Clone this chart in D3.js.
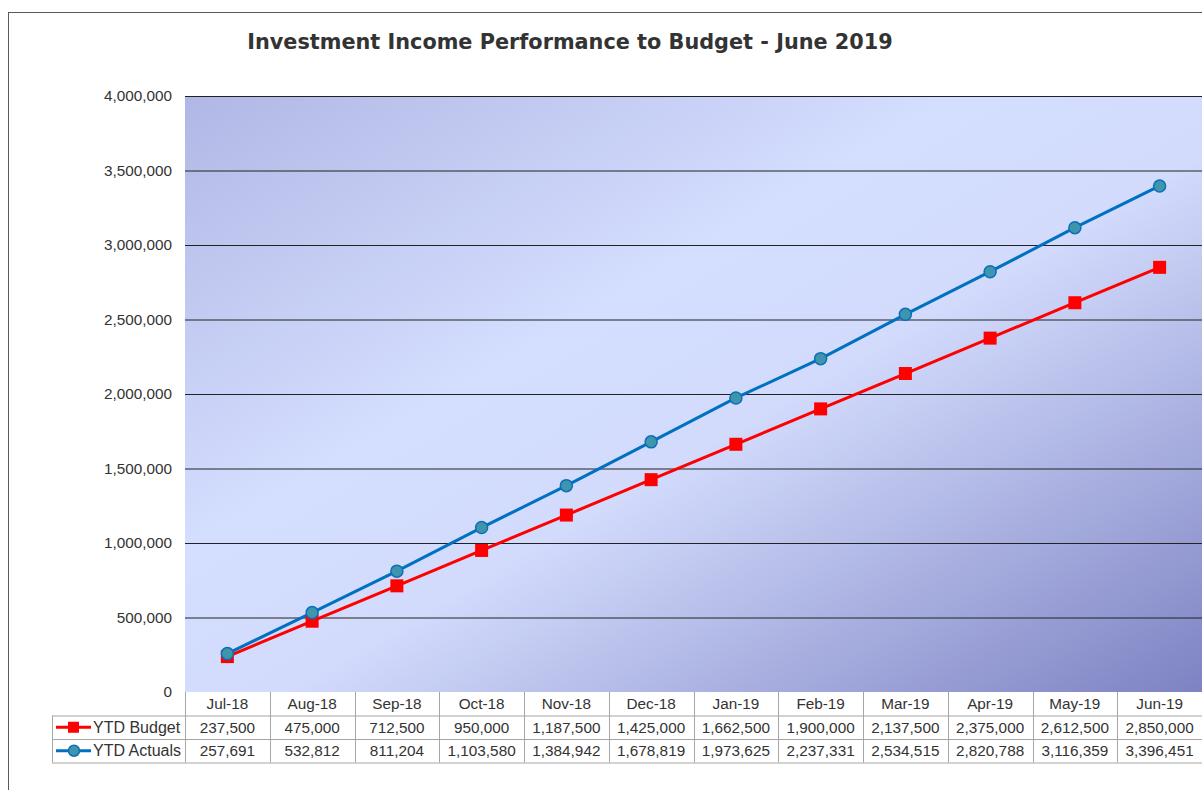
<!DOCTYPE html>
<html>
<head>
<meta charset="utf-8">
<script src="https://cdn.jsdelivr.net/npm/d3@7"></script>
<style>
  body { margin: 0; background: #fff; }
  text { font-family: "Liberation Sans", Arial, sans-serif; fill: #333; }
</style>
</head>
<body>
<svg id="chart" width="1202" height="790"></svg>
<script>
// values
const months = ["Jul-18", "Aug-18", "Sep-18", "Oct-18", "Nov-18", "Dec-18",
                "Jan-19", "Feb-19", "Mar-19", "Apr-19", "May-19", "Jun-19"];
const budget = [237500, 475000, 712500, 950000, 1187500, 1425000,
                1662500, 1900000, 2137500, 2375000, 2612500, 2850000];
const actuals = [257691, 532812, 811204, 1103580, 1384942, 1678819,
                 1973625, 2237331, 2534515, 2820788, 3116359, 3396451];
const yTicks = [0, 500000, 1000000, 1500000, 2000000, 2500000, 3000000, 3500000, 4000000];

const svg = d3.select("#chart");
const fmt = d3.format(",");

const plotL = 185, plotR = 1202, plotT = 96, plotB = 692;
const rowH = 23.5;
const fs = 15.3;

const x = d3.scaleBand().domain(months).range([plotL, plotR]);
const y = d3.scaleLinear().domain([0, 4000000]).range([plotB, plotT]);
const cx = m => x(m) + x.bandwidth() / 2;

// outer chart frame (runs off the right and bottom of the window)
svg.append("rect")
  .attr("x", 8.5).attr("y", 12.5)
  .attr("width", 1300).attr("height", 900)
  .attr("fill", "#fff").attr("stroke", "#595959");

// plot background gradient
const grad = svg.append("defs").append("linearGradient")
  .attr("id", "bg").attr("x1", 0).attr("y1", 0).attr("x2", 1).attr("y2", 1);
grad.append("stop").attr("offset", "0%").attr("stop-color", "#b1b7e5");
grad.append("stop").attr("offset", "38%").attr("stop-color", "#d4defe");
grad.append("stop").attr("offset", "55%").attr("stop-color", "#d2dbfc");
grad.append("stop").attr("offset", "100%").attr("stop-color", "#7d82c2");

svg.append("rect")
  .attr("x", plotL).attr("y", plotT)
  .attr("width", plotR - plotL).attr("height", plotB - plotT)
  .attr("fill", "url(#bg)");

// gridlines
svg.append("g")
  .attr("transform", `translate(${plotL},0)`)
  .call(d3.axisLeft(y).tickValues(yTicks.slice(1)).tickSize(-(plotR - plotL)).tickFormat(""))
  .call(g => g.select(".domain").remove())
  .call(g => g.selectAll("line").attr("stroke", "#222").attr("stroke-width", 1));

// y axis labels
svg.append("g")
  .attr("transform", `translate(${plotL},0)`)
  .call(d3.axisLeft(y).tickValues(yTicks).tickSize(0).tickPadding(13).tickFormat(fmt))
  .call(g => g.select(".domain").remove())
  .call(g => g.selectAll("text")
    .attr("font-family", "'Liberation Sans', Arial, sans-serif")
    .attr("font-size", fs).attr("fill", "#333"));

// title
svg.append("text")
  .attr("x", 570).attr("y", 49)
  .attr("text-anchor", "middle")
  .style("font-family", "'DejaVu Sans', Verdana, sans-serif")
  .style("font-weight", "bold")
  .style("font-size", "20.8px")
  .text("Investment Income Performance to Budget - June 2019");

// lines and markers
const line = d3.line().x((d, i) => cx(months[i])).y(d => y(d));

svg.append("path").datum(budget)
  .attr("d", line).attr("fill", "none")
  .attr("stroke", "#ff0000").attr("stroke-width", 3);

svg.append("path").datum(actuals)
  .attr("d", line).attr("fill", "none")
  .attr("stroke", "#0070c0").attr("stroke-width", 3);

svg.append("g").selectAll("rect")
  .data(budget).join("rect")
  .attr("x", (d, i) => cx(months[i]) - 6.5)
  .attr("y", d => y(d) - 6.5)
  .attr("width", 13).attr("height", 13)
  .attr("fill", "#ff0000");

svg.append("g").selectAll("circle")
  .data(actuals).join("circle")
  .attr("cx", (d, i) => cx(months[i]))
  .attr("cy", d => y(d))
  .attr("r", 6)
  .attr("fill", "#3f96ac").attr("stroke", "#0a70b8").attr("stroke-width", 1.5);

// data table
const table = svg.append("g");
const tblLeft = 52;
const rows = [
  { name: "YTD Budget", values: budget },
  { name: "YTD Actuals", values: actuals }
];

// header cells (month names)
table.selectAll(".hdr")
  .data(months).join("text")
  .attr("class", "hdr")
  .attr("x", d => cx(d))
  .attr("y", plotB + rowH / 2 + 5.5)
  .attr("text-anchor", "middle")
  .attr("font-size", fs)
  .text(d => d);

rows.forEach((r, ri) => {
  const rowMid = plotB + rowH * (ri + 1) + rowH / 2;
  table.append("g").selectAll("text")
    .data(r.values).join("text")
    .attr("x", (d, i) => cx(months[i]))
    .attr("y", rowMid + 5.5)
    .attr("text-anchor", "middle")
    .attr("font-size", fs)
    .text(d => fmt(d));
  table.append("text")
    .attr("x", 93).attr("y", rowMid + 5.5)
    .attr("font-size", fs + 0.7)
    .text(r.name);
});

// legend keys
const kb = plotB + rowH * 1.5, ka = plotB + rowH * 2.5;
table.append("line").attr("x1", 56).attr("x2", 91).attr("y1", kb).attr("y2", kb)
  .attr("stroke", "#ff0000").attr("stroke-width", 3);
table.append("rect").attr("x", 68).attr("y", kb - 5.5).attr("width", 11).attr("height", 11)
  .attr("fill", "#ff0000");
table.append("line").attr("x1", 56).attr("x2", 91).attr("y1", ka).attr("y2", ka)
  .attr("stroke", "#0070c0").attr("stroke-width", 3);
table.append("circle").attr("cx", 74).attr("cy", ka).attr("r", 5.5)
  .attr("fill", "#3f96ac").attr("stroke", "#0a70b8").attr("stroke-width", 1.5);

// table grid
const tg = table.append("g").attr("stroke", "#a6a6a6").attr("stroke-width", 1).attr("fill", "none");
const tBottom = plotB + rowH * 3;
[plotB + rowH, plotB + rowH * 2, tBottom].forEach(yy => {
  tg.append("line").attr("x1", tblLeft).attr("x2", plotR).attr("y1", yy + 0.5).attr("y2", yy + 0.5);
});
const vx = [tblLeft].concat(months.map(m => x(m))).concat([plotR - 0.5]);
vx.forEach((xx, i) => {
  const y0 = (i === 0) ? plotB + rowH : plotB;
  tg.append("line").attr("x1", Math.round(xx) + 0.5).attr("x2", Math.round(xx) + 0.5)
    .attr("y1", y0).attr("y2", tBottom);
});
</script>
</body>
</html>
